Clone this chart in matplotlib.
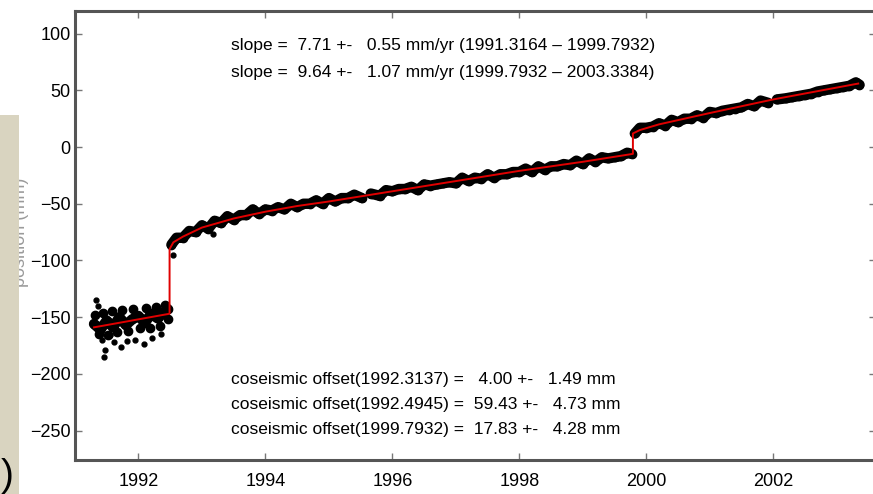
import matplotlib
matplotlib.use("Agg")
import matplotlib.pyplot as plt
import numpy as np
from matplotlib.patches import Rectangle

# GPS daily positions (nan = data gap)
years = [1991.30, 1991.40, 1991.50, 1991.60, 1991.70, 1991.80, 1991.90, 1992.00,
         1992.10, 1992.20, 1992.30, 1992.40, 1992.46, np.nan,
         1992.52, 1992.60, 1992.70, 1992.80, 1992.90, 1993.00, 1993.10, 1993.20,
         1993.30, 1993.40, 1993.50, 1993.60, 1993.70, 1993.80, 1993.90, 1994.00,
         1994.10, 1994.20, 1994.30, 1994.40, 1994.50, 1994.60, 1994.70, 1994.80,
         1994.90, 1995.00, 1995.10, 1995.20, 1995.30, 1995.40, 1995.52, np.nan,
         1995.66, 1995.80, 1995.90, 1996.00, 1996.10, 1996.20, 1996.30, 1996.40,
         1996.50, 1996.60, 1996.70, 1996.80, 1996.90, 1997.00, 1997.10, 1997.20,
         1997.30, 1997.40, 1997.50, 1997.60, 1997.70, 1997.80, 1997.90, 1998.00,
         1998.10, 1998.20, 1998.30, 1998.40, 1998.50, 1998.60, 1998.70, 1998.80,
         1998.90, 1999.00, 1999.10, 1999.20, 1999.30, 1999.40, 1999.50, 1999.60,
         1999.70, 1999.77, np.nan,
         1999.82, 1999.90, 2000.00, 2000.10, 2000.20, 2000.30, 2000.40, 2000.50,
         2000.60, 2000.70, 2000.80, 2000.90, 2001.00, 2001.10, 2001.20, 2001.30,
         2001.40, 2001.50, 2001.60, 2001.70, 2001.80, 2001.92, np.nan,
         2002.06, 2002.20, 2002.30, 2002.40, 2002.50, 2002.60, 2002.70, 2002.80,
         2002.90, 2003.00, 2003.10, 2003.20, 2003.30, 2003.36]
position = [-156, -161, -153, -159, -150, -157, -152, -149,
            -155, -147, -151, -146, -143, np.nan,
            -86, -80, -80, -74, -75, -69, -72, -65,
            -67, -61, -64, -60, -60, -55, -59, -55,
            -56, -53, -55, -50, -53, -50, -50, -47,
            -50, -45, -48, -45, -45, -42, -45, np.nan,
            -41, -43, -38, -39, -37, -37, -35, -38,
            -33, -34, -33, -32, -31, -32, -27, -30,
            -27, -28, -24, -27, -24, -24, -22, -22,
            -19, -22, -17, -20, -17, -17, -15, -16,
            -12, -15, -10, -13, -9, -10, -9, -8,
            -5, -6, np.nan,
            12, 17, 17, 18, 21, 19, 24, 22,
            25, 25, 28, 26, 31, 30, 32, 33,
            34, 35, 38, 36, 41, 39, np.nan,
            42, 43, 44, 45, 46, 47, 49, 50,
            51, 52, 53, 54, 57, 55]
# denser pre-earthquake readings (noisier period)
pre_years = [1991.32, 1991.38, 1991.44, 1991.52, 1991.58, 1991.66, 1991.74, 1991.84,
             1991.92, 1992.02, 1992.12, 1992.18, 1992.28, 1992.34, 1992.42, 1992.47]
pre_pos = [-148, -165, -146, -166, -145, -163, -144, -162,
           -143, -160, -142, -160, -141, -158, -139, -152]
# scattered outliers
out_years = [1991.33, 1991.36, 1991.45, 1991.48, 1991.42, 1991.62, 1991.72,
             1991.82, 1991.95, 1992.08, 1992.22, 1991.55, 1992.35, 1993.17, 1992.54]
out_pos = [-135, -140, -185, -179, -170, -172, -176,
           -171, -170, -174, -168, -166, -165, -77, -95]

# model fit (red line)
fit_years = [1991.30, 1992.49, 1992.49, 1992.55, 1992.70, 1993.00, 1993.50, 1994.00,
             1994.50, 1995.00, 1996.00, 1997.00, 1998.00, 1999.00, 1999.79, 1999.79,
             1999.90, 2000.20, 2001.00, 2002.00, 2003.34]
fit_pos = [-159, -147, -90, -84, -79, -71, -63, -57,
           -52, -48, -39, -30, -21, -13, -6, 12,
           15, 20, 30, 42, 56]

x_ticks = [1992, 1994, 1996, 1998, 2000, 2002]
y_ticks = [100, 50, 0, -50, -100, -150, -200, -250]

notes_top = ["slope =  7.71 +-   0.55 mm/yr (1991.3164 \u2013 1999.7932)",
             "slope =  9.64 +-   1.07 mm/yr (1999.7932 \u2013 2003.3384)"]
notes_bottom = ["coseismic offset(1992.3137) =   4.00 +-   1.49 mm",
                "coseismic offset(1992.4945) =  59.43 +-   4.73 mm",
                "coseismic offset(1999.7932) =  17.83 +-   4.28 mm"]

plt.rcParams["font.family"] = ["Liberation Sans", "DejaVu Sans"]

W, H = 873, 494
fig = plt.figure(figsize=(W / 100, H / 100), dpi=100)
ax = fig.add_axes([75 / W, 1 - 460 / H, (876 - 75) / W, (460 - 11) / H])

ax.plot(years, position, color="black", lw=7.5, solid_capstyle="round", zorder=2)
ax.plot(years, position, "o", color="black", ms=6, zorder=2)
ax.plot(pre_years, pre_pos, "o", color="black", ms=6, zorder=2)
ax.plot(out_years, out_pos, "o", color="black", ms=3.5, zorder=2)
ax.plot(fit_years, fit_pos, color="#e00000", lw=1.4, zorder=3)

ax.set_xlim(1991.0, 2003.62)
ax.set_ylim(-276, 120)
ax.set_xticks(x_ticks)
ax.set_yticks(y_ticks)
ax.tick_params(direction="in", length=5, width=1, color="#777777",
               top=True, right=True, labelsize=13)
ax.tick_params(axis="x", pad=9)
ax.tick_params(axis="y", pad=3)
for s in ax.spines.values():
    s.set_color("#555555")
    s.set_linewidth(2.2)

for i, t in enumerate(notes_top):
    ax.text(1993.45, [90, 66][i], t, fontsize=12.5, va="center", ha="left")
for i, t in enumerate(notes_bottom):
    ax.text(1993.45, [-205, -227, -249][i], t, fontsize=12.5, va="center", ha="left")

# slide remnants at the left edge
fig.text(21 / W, 1 - 232 / H, "position (mm)", rotation=90, color="#9a9a9a",
         fontsize=13, ha="center", va="center", zorder=1)
fig.patches.append(Rectangle((0, 0), 19 / W, 1 - 115 / H, transform=fig.transFigure,
                             facecolor="#d9d4c0", edgecolor="none", zorder=2))
fig.text(0.001, 0.0, ")", fontsize=28, color="black", ha="left", va="bottom", zorder=3)

fig.savefig("out.png", dpi=100)
